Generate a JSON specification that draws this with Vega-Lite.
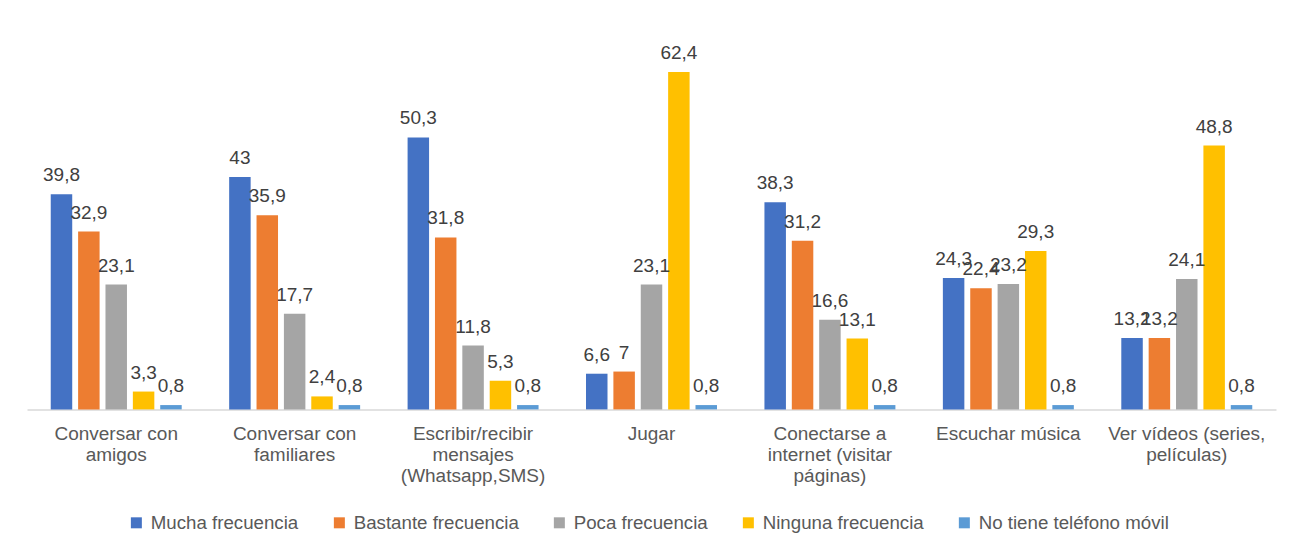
{
  "$schema": "https://vega.github.io/schema/vega-lite/v6.json",
  "width": 1249,
  "height": 378.4,
  "autosize": {"type": "none"},
  "padding": {"left": 27, "top": 31, "right": 23, "bottom": 139},
  "background": "white",
  "config": {
    "view": {"stroke": null},
    "font": "Liberation Sans",
    "locale": {"number": {"decimal": ",", "thousands": ".", "grouping": [3], "currency": ["", " €"]}}
  },
  "data": {
    "values": [
      {"cat": "Conversar con|amigos", "serie": "Mucha frecuencia", "v": 39.8},
      {"cat": "Conversar con|amigos", "serie": "Bastante frecuencia", "v": 32.9},
      {"cat": "Conversar con|amigos", "serie": "Poca frecuencia", "v": 23.1},
      {"cat": "Conversar con|amigos", "serie": "Ninguna frecuencia", "v": 3.3},
      {"cat": "Conversar con|amigos", "serie": "No tiene teléfono móvil", "v": 0.8},
      {"cat": "Conversar con|familiares", "serie": "Mucha frecuencia", "v": 43},
      {"cat": "Conversar con|familiares", "serie": "Bastante frecuencia", "v": 35.9},
      {"cat": "Conversar con|familiares", "serie": "Poca frecuencia", "v": 17.7},
      {"cat": "Conversar con|familiares", "serie": "Ninguna frecuencia", "v": 2.4},
      {"cat": "Conversar con|familiares", "serie": "No tiene teléfono móvil", "v": 0.8},
      {"cat": "Escribir/recibir|mensajes|(Whatsapp,SMS)", "serie": "Mucha frecuencia", "v": 50.3},
      {"cat": "Escribir/recibir|mensajes|(Whatsapp,SMS)", "serie": "Bastante frecuencia", "v": 31.8},
      {"cat": "Escribir/recibir|mensajes|(Whatsapp,SMS)", "serie": "Poca frecuencia", "v": 11.8},
      {"cat": "Escribir/recibir|mensajes|(Whatsapp,SMS)", "serie": "Ninguna frecuencia", "v": 5.3},
      {"cat": "Escribir/recibir|mensajes|(Whatsapp,SMS)", "serie": "No tiene teléfono móvil", "v": 0.8},
      {"cat": "Jugar", "serie": "Mucha frecuencia", "v": 6.6},
      {"cat": "Jugar", "serie": "Bastante frecuencia", "v": 7},
      {"cat": "Jugar", "serie": "Poca frecuencia", "v": 23.1},
      {"cat": "Jugar", "serie": "Ninguna frecuencia", "v": 62.4},
      {"cat": "Jugar", "serie": "No tiene teléfono móvil", "v": 0.8},
      {"cat": "Conectarse a|internet (visitar|páginas)", "serie": "Mucha frecuencia", "v": 38.3},
      {"cat": "Conectarse a|internet (visitar|páginas)", "serie": "Bastante frecuencia", "v": 31.2},
      {"cat": "Conectarse a|internet (visitar|páginas)", "serie": "Poca frecuencia", "v": 16.6},
      {"cat": "Conectarse a|internet (visitar|páginas)", "serie": "Ninguna frecuencia", "v": 13.1},
      {"cat": "Conectarse a|internet (visitar|páginas)", "serie": "No tiene teléfono móvil", "v": 0.8},
      {"cat": "Escuchar música", "serie": "Mucha frecuencia", "v": 24.3},
      {"cat": "Escuchar música", "serie": "Bastante frecuencia", "v": 22.4},
      {"cat": "Escuchar música", "serie": "Poca frecuencia", "v": 23.2},
      {"cat": "Escuchar música", "serie": "Ninguna frecuencia", "v": 29.3},
      {"cat": "Escuchar música", "serie": "No tiene teléfono móvil", "v": 0.8},
      {"cat": "Ver vídeos (series,|películas)", "serie": "Mucha frecuencia", "v": 13.2},
      {"cat": "Ver vídeos (series,|películas)", "serie": "Bastante frecuencia", "v": 13.2},
      {"cat": "Ver vídeos (series,|películas)", "serie": "Poca frecuencia", "v": 24.1},
      {"cat": "Ver vídeos (series,|películas)", "serie": "Ninguna frecuencia", "v": 48.8},
      {"cat": "Ver vídeos (series,|películas)", "serie": "No tiene teléfono móvil", "v": 0.8}
    ]
  },
  "encoding": {
    "x": {
      "field": "cat", "type": "nominal", "sort": null,
      "scale": {"paddingInner": 0.266, "paddingOuter": 0.133},
      "axis": {
        "title": null, "labelAngle": 0, "labelExpr": "split(datum.label, '|')",
        "domainColor": "#d9d9d9", "domainWidth": 1.5, "ticks": false,
        "labelFontSize": 19, "labelColor": "#595959", "labelPadding": 15,
        "labelLineHeight": 21, "labelLimit": 300
      }
    },
    "xOffset": {
      "field": "serie", "type": "nominal",
      "sort": ["Mucha frecuencia", "Bastante frecuencia", "Poca frecuencia", "Ninguna frecuencia", "No tiene teléfono móvil"],
      "scale": {"paddingInner": 0.215, "paddingOuter": 0}
    },
    "y": {"field": "v", "type": "quantitative", "scale": {"domain": [0, 70]}, "axis": null}
  },
  "layer": [
    {
      "mark": {"type": "bar"},
      "encoding": {
        "color": {
          "field": "serie", "type": "nominal",
          "scale": {
            "domain": ["Mucha frecuencia", "Bastante frecuencia", "Poca frecuencia", "Ninguna frecuencia", "No tiene teléfono móvil"],
            "range": ["#4472C4", "#ED7D31", "#A5A5A5", "#FFC000", "#5B9BD5"]
          },
          "legend": {
            "title": null, "orient": "none", "legendX": 100, "legendY": 482,
            "direction": "horizontal", "symbolType": "square", "symbolSize": 121,
            "symbolStrokeWidth": 0, "labelFontSize": 18.7, "labelColor": "#595959",
            "columnPadding": 31, "labelOffset": 5, "padding": 0, "labelLimit": 400
          }
        }
      }
    },
    {
      "mark": {"type": "text", "dy": -13, "baseline": "alphabetic", "fontSize": 19, "color": "#404040"},
      "encoding": {"text": {"field": "v", "type": "quantitative", "format": "~r"}}
    }
  ]
}
